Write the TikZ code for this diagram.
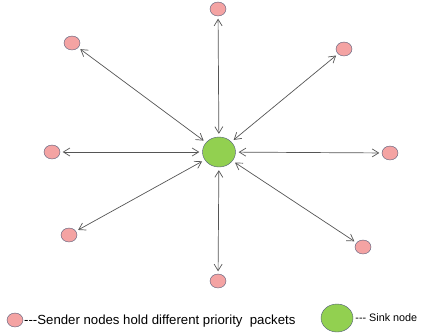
\documentclass[tikz,border=0pt]{standalone}
\usepackage{fontspec}
\setmainfont{Liberation Sans}
\usepackage{tikz}
\usetikzlibrary{arrows.meta,positioning,shapes.geometric}
\definecolor{senderfill}{HTML}{F4A3A3}
\definecolor{sinkfill}{HTML}{92D050}
\definecolor{rim}{HTML}{4F5A78}
\definecolor{linkgray}{HTML}{555555}
\tikzset{
  sender/.style={ellipse,draw=rim,fill=senderfill,minimum width=16pt,minimum height=14pt,inner sep=0pt},
  sink/.style={ellipse,draw=rim,fill=sinkfill,minimum width=33pt,minimum height=30pt,inner sep=0pt},
  link/.style={{Straight Barb[length=6.5pt,width=8pt]}-{Straight Barb[length=6.5pt,width=8pt]},draw=linkgray,line width=0.7pt,shorten <=2.5pt,shorten >=3pt},
  legend/.style={anchor=west,inner sep=0pt,font=\fontsize{13.2}{15}\selectfont}
}

\begin{document}
\begin{tikzpicture}[x=1pt,y=-1pt]
  \useasboundingbox (0,0) rectangle (428,333);
  \node[sink] (sink) at (219,152) {};
  \node[sender] (t)  at (218,9) {};
  \node[sender] (tl) at (72,43) {};
  \node[sender] (tr) at (344,49) {};
  \node[sender] (l)  at (52,152) {};
  \node[sender] (r)  at (390,153) {};
  \node[sender] (bl) at (69,235) {};
  \node[sender] (br) at (363,247) {};
  \node[sender] (b)  at (218,281) {};
  \foreach \n in {t,tl,tr,l,r,bl,br,b}
    \draw[link] (\n) -- (sink);
  % legend
  \node[sender] (keysender) at (15,320) {};
  \node[legend] (keytext) at (24,321) {{-}{-}{-}Sender nodes hold different priority\ \ packets};
  \node[sink,minimum width=32pt,minimum height=28pt] (keysink) at (337,318) {};
  \node[legend,right=2pt of keysink,font=\fontsize{10.8}{13}\selectfont] (keysinktext) {{-}{-}{-} Sink node};
\end{tikzpicture}
\end{document}
